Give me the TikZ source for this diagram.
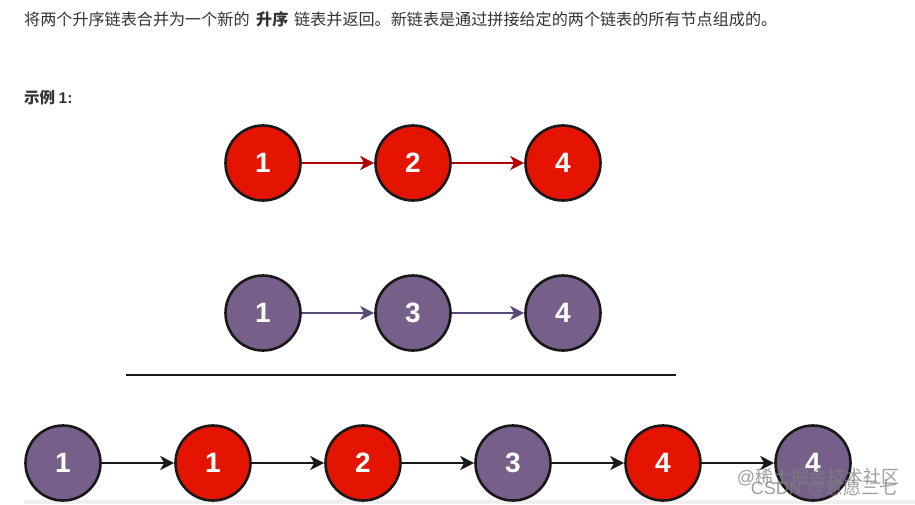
\documentclass[tikz,border=0pt]{standalone}
\usepackage{fontspec}
\setmainfont{Liberation Sans}
\newfontfamily\cjk{Noto Sans CJK SC}
\usetikzlibrary{arrows.meta}
\definecolor{redfill}{HTML}{E51400}
\definecolor{purplefill}{HTML}{76608A}
\definecolor{redline}{HTML}{B20000}
\definecolor{purpleline}{HTML}{5A4A7A}
\definecolor{txt}{HTML}{333333}
\tikzset{
  ball/.style={circle,draw=black!90,line width=2.6pt,minimum size=75pt,inner sep=0pt,text=white,font=\fontsize{28}{28}\selectfont\bfseries},
  redball/.style={ball,fill=redfill},
  purpleball/.style={ball,fill=purplefill},
  link/.style={line width=2pt,-{Stealth[length=14pt,width=14pt,inset=4pt]}},
  para/.style={anchor=west,inner sep=0pt,text=txt,font=\fontsize{16.1}{17}\selectfont\cjk},
  wm/.style={anchor=center,inner sep=0pt,text=gray,opacity=.75,font=\fontsize{18}{18}\selectfont}
}
\begin{document}
\begin{tikzpicture}[x=1pt,y=-1pt]
\useasboundingbox (0,0) rectangle (915,504);
\fill[white] (0,0) rectangle (915,504);
\fill[black!6] (24,500) rectangle (915,504);
\node[para] (t1) at (24,19) {将两个升序链表合并为一个新的};
\node[para,font=\fontsize{16.1}{17}\selectfont\cjk\bfseries] (t2) at (256,19) {升序};
\node[para] (t3) at (294,19) {链表并返回。新链表是通过拼接给定的两个链表的所有节点组成的。};
\node[para,font=\fontsize{15.5}{16}\selectfont\cjk\bfseries] (t4) at (24,98) {示例 \rmfamily\bfseries 1:};
\node[redball] (a1) at (263,163) {1};
\node[redball] (a2) at (413,163) {2};
\node[redball] (a3) at (563,163) {4};
\draw[link,redline] (a1) -- (a2);
\draw[link,redline] (a2) -- (a3);
\node[purpleball] (b1) at (263,313) {1};
\node[purpleball] (b2) at (413,313) {3};
\node[purpleball] (b3) at (563,313) {4};
\draw[link,purpleline] (b1) -- (b2);
\draw[link,purpleline] (b2) -- (b3);
\coordinate (ruleL) at (126,375);
\coordinate (ruleR) at (676,375);
\draw[line width=2.4pt,black!90] (ruleL) -- (ruleR);
\node[purpleball] (c1) at (63,463) {1};
\node[redball] (c2) at (213,463) {1};
\node[redball] (c3) at (363,463) {2};
\node[purpleball] (c4) at (513,463) {3};
\node[redball] (c5) at (663,463) {4};
\node[purpleball] (c6) at (813,463) {4};
\foreach \p/\q in {c1/c2,c2/c3,c3/c4,c4/c5,c5/c6}
  \draw[link,black!90] (\p) -- (\q);
\node[wm] (w1) at (818,477) {@\cjk 稀土掘金技术社区};
\node[wm] (w2) at (824,488) {CSDN @\cjk 意愿三七};
\end{tikzpicture}
\end{document}
